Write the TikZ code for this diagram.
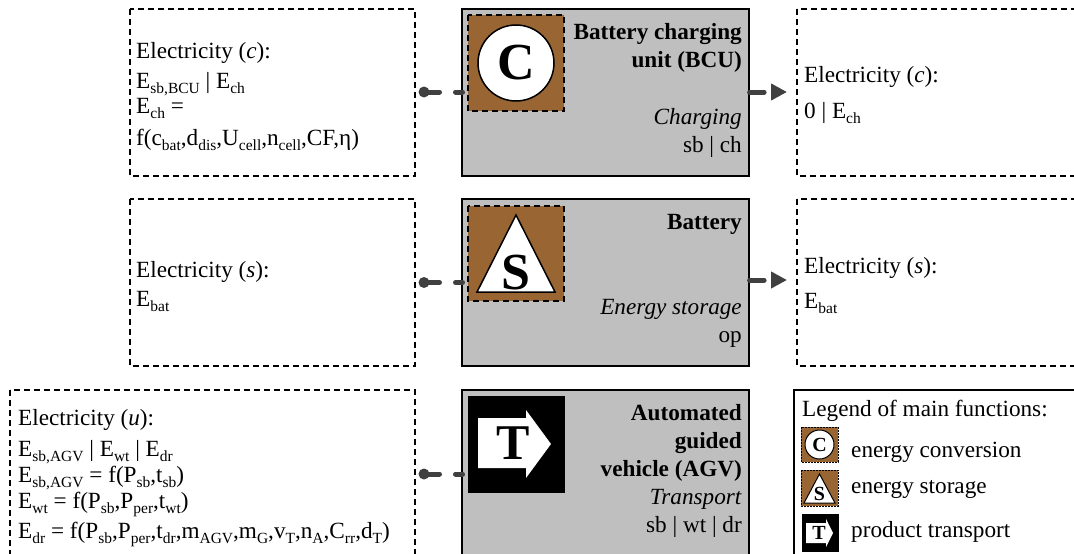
\documentclass[tikz,border=0pt]{standalone}
\usepackage{fontspec}
\setmainfont{Liberation Serif}
\usetikzlibrary{arrows.meta}
\definecolor{boxgray}{HTML}{BFBFBF}
\definecolor{iconbrown}{HTML}{996633}
\definecolor{flowgray}{HTML}{404040}
\newcommand{\lo}[1]{\raisebox{-0.22em}{\fontsize{15.5}{15.5}\selectfont #1}}
\tikzset{
    every node/.style={font=\fontsize{23.2}{27}\selectfont, inner sep=0pt},
    databox/.style={draw=black, line width=1.3pt, dash pattern=on 6pt off 4pt},
    unitbox/.style={draw=black, fill=boxgray, line width=1.2pt},
    brownbox/.style={draw=black, fill=iconbrown, line width=1.3pt, dash pattern=on 6pt off 4pt},
    blackbox/.style={draw=black, fill=black},
    iconshape/.style={draw=black, fill=white, line width=1.5pt},
    datatext/.style={anchor=base west, align=left},
    unittext/.style={anchor=north east, align=right},
    flowin/.style={draw=flowgray, line width=5pt, line cap=round, dash pattern=on 15.5pt off 16pt on 7pt off 50pt},
    flowout/.style={draw=flowgray, line width=5pt, line cap=round, dash pattern=on 14.5pt off 40pt, -{Triangle[length=16pt,width=16pt]}},
    flowdot/.style={circle, fill=flowgray, minimum size=11pt},
}
\begin{document}
\begin{tikzpicture}[x=1pt,y=-1pt]
    \useasboundingbox (0,0) rectangle (1074,554);
    \clip (0,0) rectangle (1074,554);
    % data boxes
    \draw[databox] (130,9) rectangle (415,176);
    \draw[databox] (797,9) rectangle (1090,176);
    \draw[databox] (130,199) rectangle (415,366);
    \draw[databox] (797,199) rectangle (1090,366);
    \draw[databox] (10,390) rectangle (415,570);
    % units
    \node[unitbox, minimum width=287pt, minimum height=167pt] (BCU) at (605.5,92.5) {};
    \node[unitbox, minimum width=287pt, minimum height=167pt] (BAT) at (605.5,282.5) {};
    \node[unitbox, minimum width=287pt, minimum height=180pt] (AGV) at (605.5,480) {};
    % main functions
    \draw[brownbox] (468,15) rectangle (564,111);
    \node[iconshape, circle, minimum size=76pt, font=\fontsize{52}{52}\selectfont\bfseries] (conv) at (516,63) {C};
    \draw[brownbox] (468,206) rectangle (564,301);
    \draw[iconshape, miter limit=10] (516,215) -- (555,292) -- (477,292) -- cycle;
    \node[font=\fontsize{52}{52}\selectfont\bfseries] (stor) at (516,273) {S};
    \draw[blackbox] (468,396) rectangle (564,492);
    \draw[fill=white, draw=none] (478,418) -- (526,418) -- (526,410) -- (551,444) -- (526,478) -- (526,468) -- (478,468) -- cycle;
    \node[font=\fontsize{50}{50}\selectfont\bfseries] (tran) at (513,443) {T};
    % unit labels
    \node[unittext, font=\fontsize{23.2}{28}\selectfont\bfseries] (BCU title) at (742,23) {Battery charging\\unit (BCU)};
    \node[unittext, font=\fontsize{23.2}{28}\selectfont] (BCU func) at (742,108) {\textit{Charging}\\sb | ch};
    \node[unittext, font=\fontsize{23.2}{28}\selectfont\bfseries] (BAT title) at (742,214) {Battery};
    \node[unittext, font=\fontsize{23.2}{28}\selectfont] (BAT func) at (742,299.5) {\textit{Energy storage}\\op};
    \node[unittext, font=\fontsize{23.2}{28}\selectfont] (AGV title) at (742,404) {\textbf{Automated}\\\textbf{guided}\\\textbf{vehicle (AGV)}\\\textit{Transport}\\sb | wt | dr};
    % data labels
    \node[datatext] (BCU in) at (136,145) {Electricity (\textit{c}):\\[3pt]E\lo{sb,BCU} | E\lo{ch}\\[-2pt]E\lo{ch} =\\[5pt]f(c\lo{bat},d\lo{dis},U\lo{cell},n\lo{cell},CF,η)};
    \node[datatext] (BCU out) at (804,118) {Electricity (\textit{c}):\\[9pt]0 | E\lo{ch}};
    \node[datatext] (BAT in) at (136,306) {Electricity (\textit{s}):\\[2pt]E\lo{bat}};
    \node[datatext] (BAT out) at (804,308) {Electricity (\textit{s}):\\[8pt]E\lo{bat}};
    \node[datatext] (AGV in) at (18,538) {Electricity (\textit{u}):\\[4pt]E\lo{sb,AGV} | E\lo{wt} | E\lo{dr}\\[-1pt]E\lo{sb,AGV} = f(P\lo{sb},t\lo{sb})\\[-1pt]E\lo{wt} = f(P\lo{sb},P\lo{per},t\lo{wt})\\[3pt]E\lo{dr} = f(P\lo{sb},P\lo{per},t\lo{dr},m\lo{AGV},m\lo{G},v\lo{T},n\lo{A},C\lo{rr},d\lo{T})};
    % flows
    \node[flowdot] (BCU dot) at (424,92) {};
    \node[flowdot] (BAT dot) at (424,282.5) {};
    \node[flowdot] (AGV dot) at (424,474) {};
    \coordinate (BCU end) at (787,92);
    \coordinate (BAT end) at (787,280);
    \draw[flowin] (BCU dot.center) -- (467,92);
    \draw[flowin] (BAT dot.center) -- (467,282.5);
    \draw[flowin] (AGV dot.center) -- (467,474);
    \draw[flowout] (BCU.east |- BCU end) -- (BCU end);
    \draw[flowout] (BAT.east |- BAT end) -- (BAT end);
    % legend
    \draw[draw=black, line width=1.2pt] (794,390) rectangle (1090,570);
    \node[anchor=base west] (legend) at (802,416) {Legend of main functions:};
    \draw[brownbox, line width=0.8pt, dash pattern=on 2pt off 1pt] (801,427) rectangle (838,462);
    \node[iconshape, circle, minimum size=29pt, line width=1pt, font=\fontsize{20}{20}\selectfont\bfseries] (conv small) at (819.5,444.5) {C};
    \draw[brownbox, line width=0.8pt, dash pattern=on 2pt off 1pt] (801,470) rectangle (838,506);
    \draw[iconshape, line width=1pt] (819.5,474) -- (835,503) -- (804,503) -- cycle;
    \node[font=\fontsize{20}{20}\selectfont\bfseries] (stor small) at (819.5,494) {S};
    \draw[blackbox] (802,514) rectangle (838,551);
    \draw[fill=white, draw=none] (806,523) -- (826,523) -- (826,519) -- (833,533) -- (826,547) -- (826,543) -- (806,543) -- cycle;
    \node[font=\fontsize{20}{20}\selectfont\bfseries] (tran small) at (819,533) {T};
    \node[anchor=base west] (legend conv) at (851,457) {energy conversion};
    \node[anchor=base west] (legend stor) at (851,493) {energy storage};
    \node[anchor=base west] (legend tran) at (851,537) {product transport};
\end{tikzpicture}
\end{document}
